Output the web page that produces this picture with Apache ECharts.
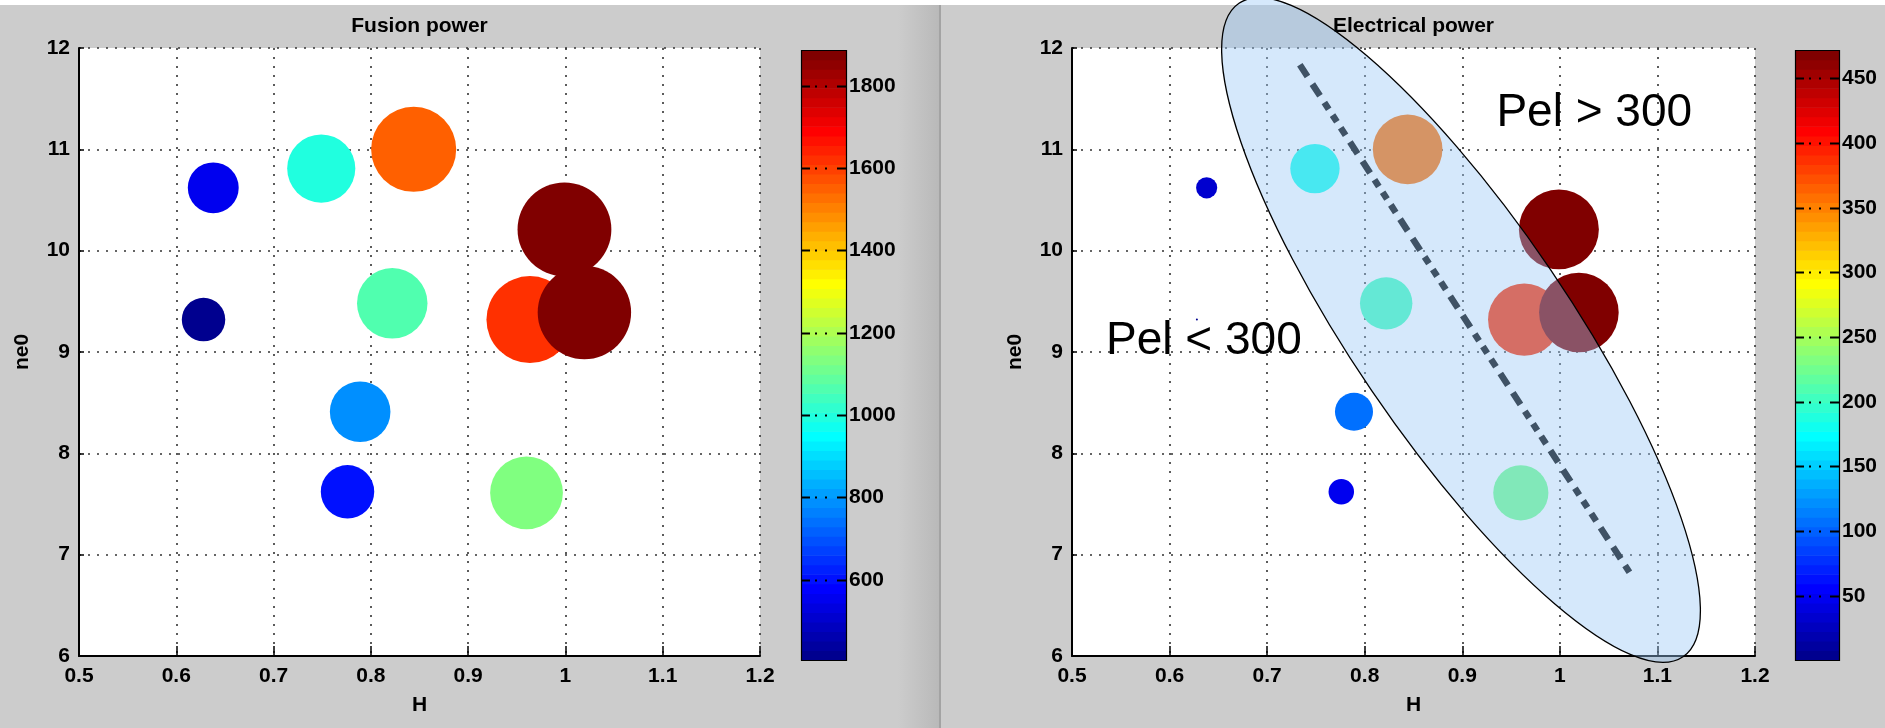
<!DOCTYPE html>
<html>
<head>
<meta charset="utf-8">
<script src="https://cdn.jsdelivr.net/npm/echarts@6/dist/echarts.min.js"></script>
<style>
html,body{margin:0;padding:0;background:#cccccc;}
#chart{width:1885px;height:728px;}
</style>
</head>
<body>
<div id="chart"></div>
<script>
// ---------------- data ----------------
const hFactor        = [0.638, 0.749, 0.844, 0.999, 0.628, 0.822, 0.9635, 1.0195, 0.789, 0.776, 0.960];
const ne0            = [10.62, 10.81, 11.00, 10.21, 9.32, 9.48, 9.32, 9.39, 8.41, 7.62, 7.61];
const fusionPower    = [555, 995, 1551, 1887, 405, 1065, 1620, 1870, 787, 612, 1135];
const electricPower  = [33, 180, 358, 472, 0.3, 203, 387, 468, 107, 48, 225];
const fusionTicks    = [600, 800, 1000, 1200, 1400, 1600, 1800];
const electricTicks  = [50, 100, 150, 200, 250, 300, 350, 400, 450];
const titles         = ['Fusion power', 'Electrical power'];
// annotations on the right panel (data coordinates)
const trendH         = [0.7335, 1.0732];
const trendNe        = [11.834, 6.799];
const ellipseCenter  = [0.8987, 9.217];
const noteTexts      = ['Pel > 300', 'Pel < 300'];
const noteH          = [0.935, 0.5349];
const noteNe         = [11.354, 9.11];

// ---------------- MATLAB jet(64) colormap ----------------
function jet(n){
  const m = Math.ceil(n/4);
  const u = [];
  for(let i=1;i<=m;i++) u.push(i/m);
  for(let i=0;i<m-1;i++) u.push(1);
  for(let i=m;i>=1;i--) u.push(i/m);
  const L = u.length;
  const off = Math.ceil(m/2) - (n%4===1?1:0);
  let g = []; for(let k=1;k<=L;k++) g.push(off+k);
  const r = g.map(x=>x+m).filter(x=>x<=n);
  const b = g.map(x=>x-m).filter(x=>x>=1);
  g = g.filter(x=>x<=n);
  const J = Array.from({length:n},()=>[0,0,0]);
  r.forEach((idx,k)=>J[idx-1][0]=u[k]);
  g.forEach((idx,k)=>J[idx-1][1]=u[k]);
  b.forEach((idx,k)=>J[idx-1][2]=u[L-b.length+k]);
  return J.map(c=>'rgb('+c.map(v=>Math.round(v*255)).join(',')+')');
}
const JET = jet(64);
function mapColor(v, lo, hi){
  let i = Math.floor((v-lo)/(hi-lo)*64);
  i = Math.max(0, Math.min(63, i));
  return JET[i];
}
const fRange = [Math.min(...fusionPower), Math.max(...fusionPower)];
const eRange = [Math.min(...electricPower), Math.max(...electricPower)];

const FONT = '"Liberation Sans", Arial, Helvetica, sans-serif';
const txt = {fontFamily: FONT, fontWeight: 'bold', fontSize: 21, color: '#000', lineHeight: 21};

function plotAxes(gi){
  const x = {
    type:'value', gridIndex:gi, min:0.5, max:1.2, interval:0.1,
    name:'H', nameLocation:'middle', nameGap:39, nameTextStyle:Object.assign({},txt),
    axisLine:{show:true, onZero:false, lineStyle:{color:'#000', width:2}},
    axisTick:{show:true, inside:true, length:10, lineStyle:{color:'#000', width:1.5}},
    axisLabel:Object.assign({margin:10}, txt),
    splitLine:{show:true, lineStyle:{color:'#333', width:1.6, type:[2,7]}}
  };
  const y = {
    type:'value', gridIndex:gi, min:6, max:12, interval:1,
    name:'ne0', nameLocation:'middle', nameGap:46, nameTextStyle:Object.assign({},txt),
    axisLine:{show:true, onZero:false, lineStyle:{color:'#000', width:2}},
    axisTick:{show:true, inside:true, length:5, lineStyle:{color:'#000', width:1.5}},
    axisLabel:Object.assign({margin:9}, txt),
    splitLine:{show:true, lineStyle:{color:'#333', width:1.6, type:[2,7]}}
  };
  return [x,y];
}
const [x0,y0] = plotAxes(0);
const [x1,y1] = plotAxes(1);
const cbX = gi => ({type:'value', gridIndex:gi, min:0, max:1, show:false});
const cbY = (gi, r) => ({type:'value', gridIndex:gi, min:r[0], max:r[1], show:false});

function bandSeries(ai, r){
  const data = JET.map((c,i)=>[i]);
  return {
    type:'custom', xAxisIndex:ai, yAxisIndex:ai, silent:true, z:2,
    data: data,
    renderItem:(params, api)=>{
      const i = api.value(0);
      const lo = r[0] + i*(r[1]-r[0])/64, hi = r[0] + (i+1)*(r[1]-r[0])/64;
      const p0 = api.coord([0, hi]), p1 = api.coord([1, lo]);
      return {type:'rect', shape:{x:p0[0], y:p0[1], width:p1[0]-p0[0], height:p1[1]-p0[1]+0.6},
              style:{fill:JET[i]}};
    }
  };
}
function tickSeries(ai, ticks){
  return {
    type:'custom', xAxisIndex:ai, yAxisIndex:ai, silent:true, z:3,
    data: ticks.map(t=>[t]),
    renderItem:(params, api)=>{
      const v = api.value(0);
      const a = api.coord([0, v]), b = api.coord([1, v]);
      const y = Math.round(a[1])+0.5;
      return {type:'group', children:[
        {type:'line', shape:{x1:a[0], y1:y, x2:a[0]+9, y2:y}, style:{stroke:'#000', lineWidth:2}},
        {type:'line', shape:{x1:b[0]-9, y1:y, x2:b[0], y2:y}, style:{stroke:'#000', lineWidth:2}},
        {type:'line', shape:{x1:a[0]+14, y1:y, x2:b[0]-11, y2:y}, style:{stroke:'#000', lineWidth:2, lineDash:[2,8]}},
        {type:'text', x:b[0]+3, y:a[1], style:{text:String(v), font:'bold 21px '+FONT, fill:'#000', align:'left', verticalAlign:'middle'}}
      ]};
    }
  };
}
function frameSeries(ai, r){
  return {
    type:'custom', xAxisIndex:ai, yAxisIndex:ai, silent:true, z:4,
    data:[[r[0], r[1]]],
    renderItem:(params, api)=>{
      const p0 = api.coord([0, api.value(1)]), p1 = api.coord([1, api.value(0)]);
      return {type:'rect', shape:{x:Math.round(p0[0])+0.5, y:Math.round(p0[1])+0.5, width:Math.round(p1[0]-p0[0]), height:Math.round(p1[1]-p0[1])},
              style:{fill:'none', stroke:'#000', lineWidth:1.2}};
    }
  };
}

const chart = echarts.init(document.getElementById('chart'), null, {renderer:'canvas'});
const option = {
  animation:false,
  backgroundColor:'#cccccc',
  grid:[
    {left:79, top:48, width:681, height:608, show:true, backgroundColor:'#ffffff', borderWidth:0},
    {left:1072, top:48, width:683, height:608, show:true, backgroundColor:'#ffffff', borderWidth:0},
    {left:801, top:50, width:45, height:610},
    {left:1795, top:50, width:44, height:610}
  ],
  xAxis:[x0, x1, cbX(2), cbX(3)],
  yAxis:[y0, y1, cbY(2, fRange), cbY(3, eRange)],
  series:[
    {
      type:'scatter', xAxisIndex:0, yAxisIndex:0, z:3,
      data: hFactor.map((h,i)=>[h, ne0[i], fusionPower[i]]),
      symbol:'circle',
      symbolSize: d => 2.16*Math.sqrt(d[2]),
      itemStyle:{opacity:1, color: p => mapColor(p.value[2], fRange[0], fRange[1])}
    },
    {
      type:'scatter', xAxisIndex:1, yAxisIndex:1, z:3,
      data: hFactor.map((h,i)=>[h, ne0[i], electricPower[i]]),
      symbol:'circle',
      symbolSize: d => 3.68*Math.sqrt(d[2]),
      itemStyle:{opacity:1, color: p => mapColor(p.value[2], eRange[0], eRange[1])}
    },
    {
      type:'line', xAxisIndex:1, yAxisIndex:1, z:4, silent:true,
      data: trendH.map((h,i)=>[h, trendNe[i]]),
      symbol:'none',
      lineStyle:{color:'#000', width:6.5, type:[14,9,14,8,8,7,8,7,9,8], cap:'butt'}
    },
    bandSeries(2, fRange), tickSeries(2, fusionTicks), frameSeries(2, fRange),
    bandSeries(3, eRange), tickSeries(3, electricTicks), frameSeries(3, eRange)
  ]
};
chart.setOption(option);

// ---------------- annotations (positions from the chart's own scales) ----------------
const c = chart.convertToPixel({gridIndex:1}, ellipseCenter);
const g0 = chart.convertToPixel({gridIndex:0}, [0.85, 12]);
const g1 = chart.convertToPixel({gridIndex:1}, [0.85, 12]);
const notes = noteTexts.map((t,i)=>{
  const p = chart.convertToPixel({gridIndex:1}, [noteH[i], noteNe[i]]);
  return {type:'text', x:p[0], y:p[1], z:120,
          style:{text:t, font:'46px '+FONT, fill:'#000', align:'left', verticalAlign:'middle'}};
});
chart.setOption({
  graphic:{elements:[
    {type:'rect', x:0, y:0, z:-1, shape:{x:0, y:0, width:1885, height:5}, style:{fill:'#ffffff'}},
    {type:'rect', x:0, y:5, z:-1, shape:{x:898, y:0, width:41, height:723},
      style:{fill:new echarts.graphic.LinearGradient(0,0,1,0,[{offset:0,color:'#cccccc'},{offset:1,color:'#b9b9b9'}])}},
    {type:'rect', x:0, y:5, z:-1, shape:{x:939, y:0, width:2, height:723}, style:{fill:'#a3a3a3'}},
    {type:'text', x:g0[0], y:26, z:1, style:{text:titles[0], font:'bold 21px '+FONT, fill:'#000', align:'center', verticalAlign:'middle'}},
    {type:'text', x:g1[0], y:26, z:1, style:{text:titles[1], font:'bold 21px '+FONT, fill:'#000', align:'center', verticalAlign:'middle'}},
    {type:'ellipse', x:c[0], y:c[1], rotation:-55.8*Math.PI/180, z:100,
      shape:{cx:0, cy:0, rx:395, ry:108},
      style:{fill:'rgba(152,199,245,0.41)', stroke:'#000', lineWidth:1.3}},
    ...notes
  ]}
});
</script>
</body>
</html>
